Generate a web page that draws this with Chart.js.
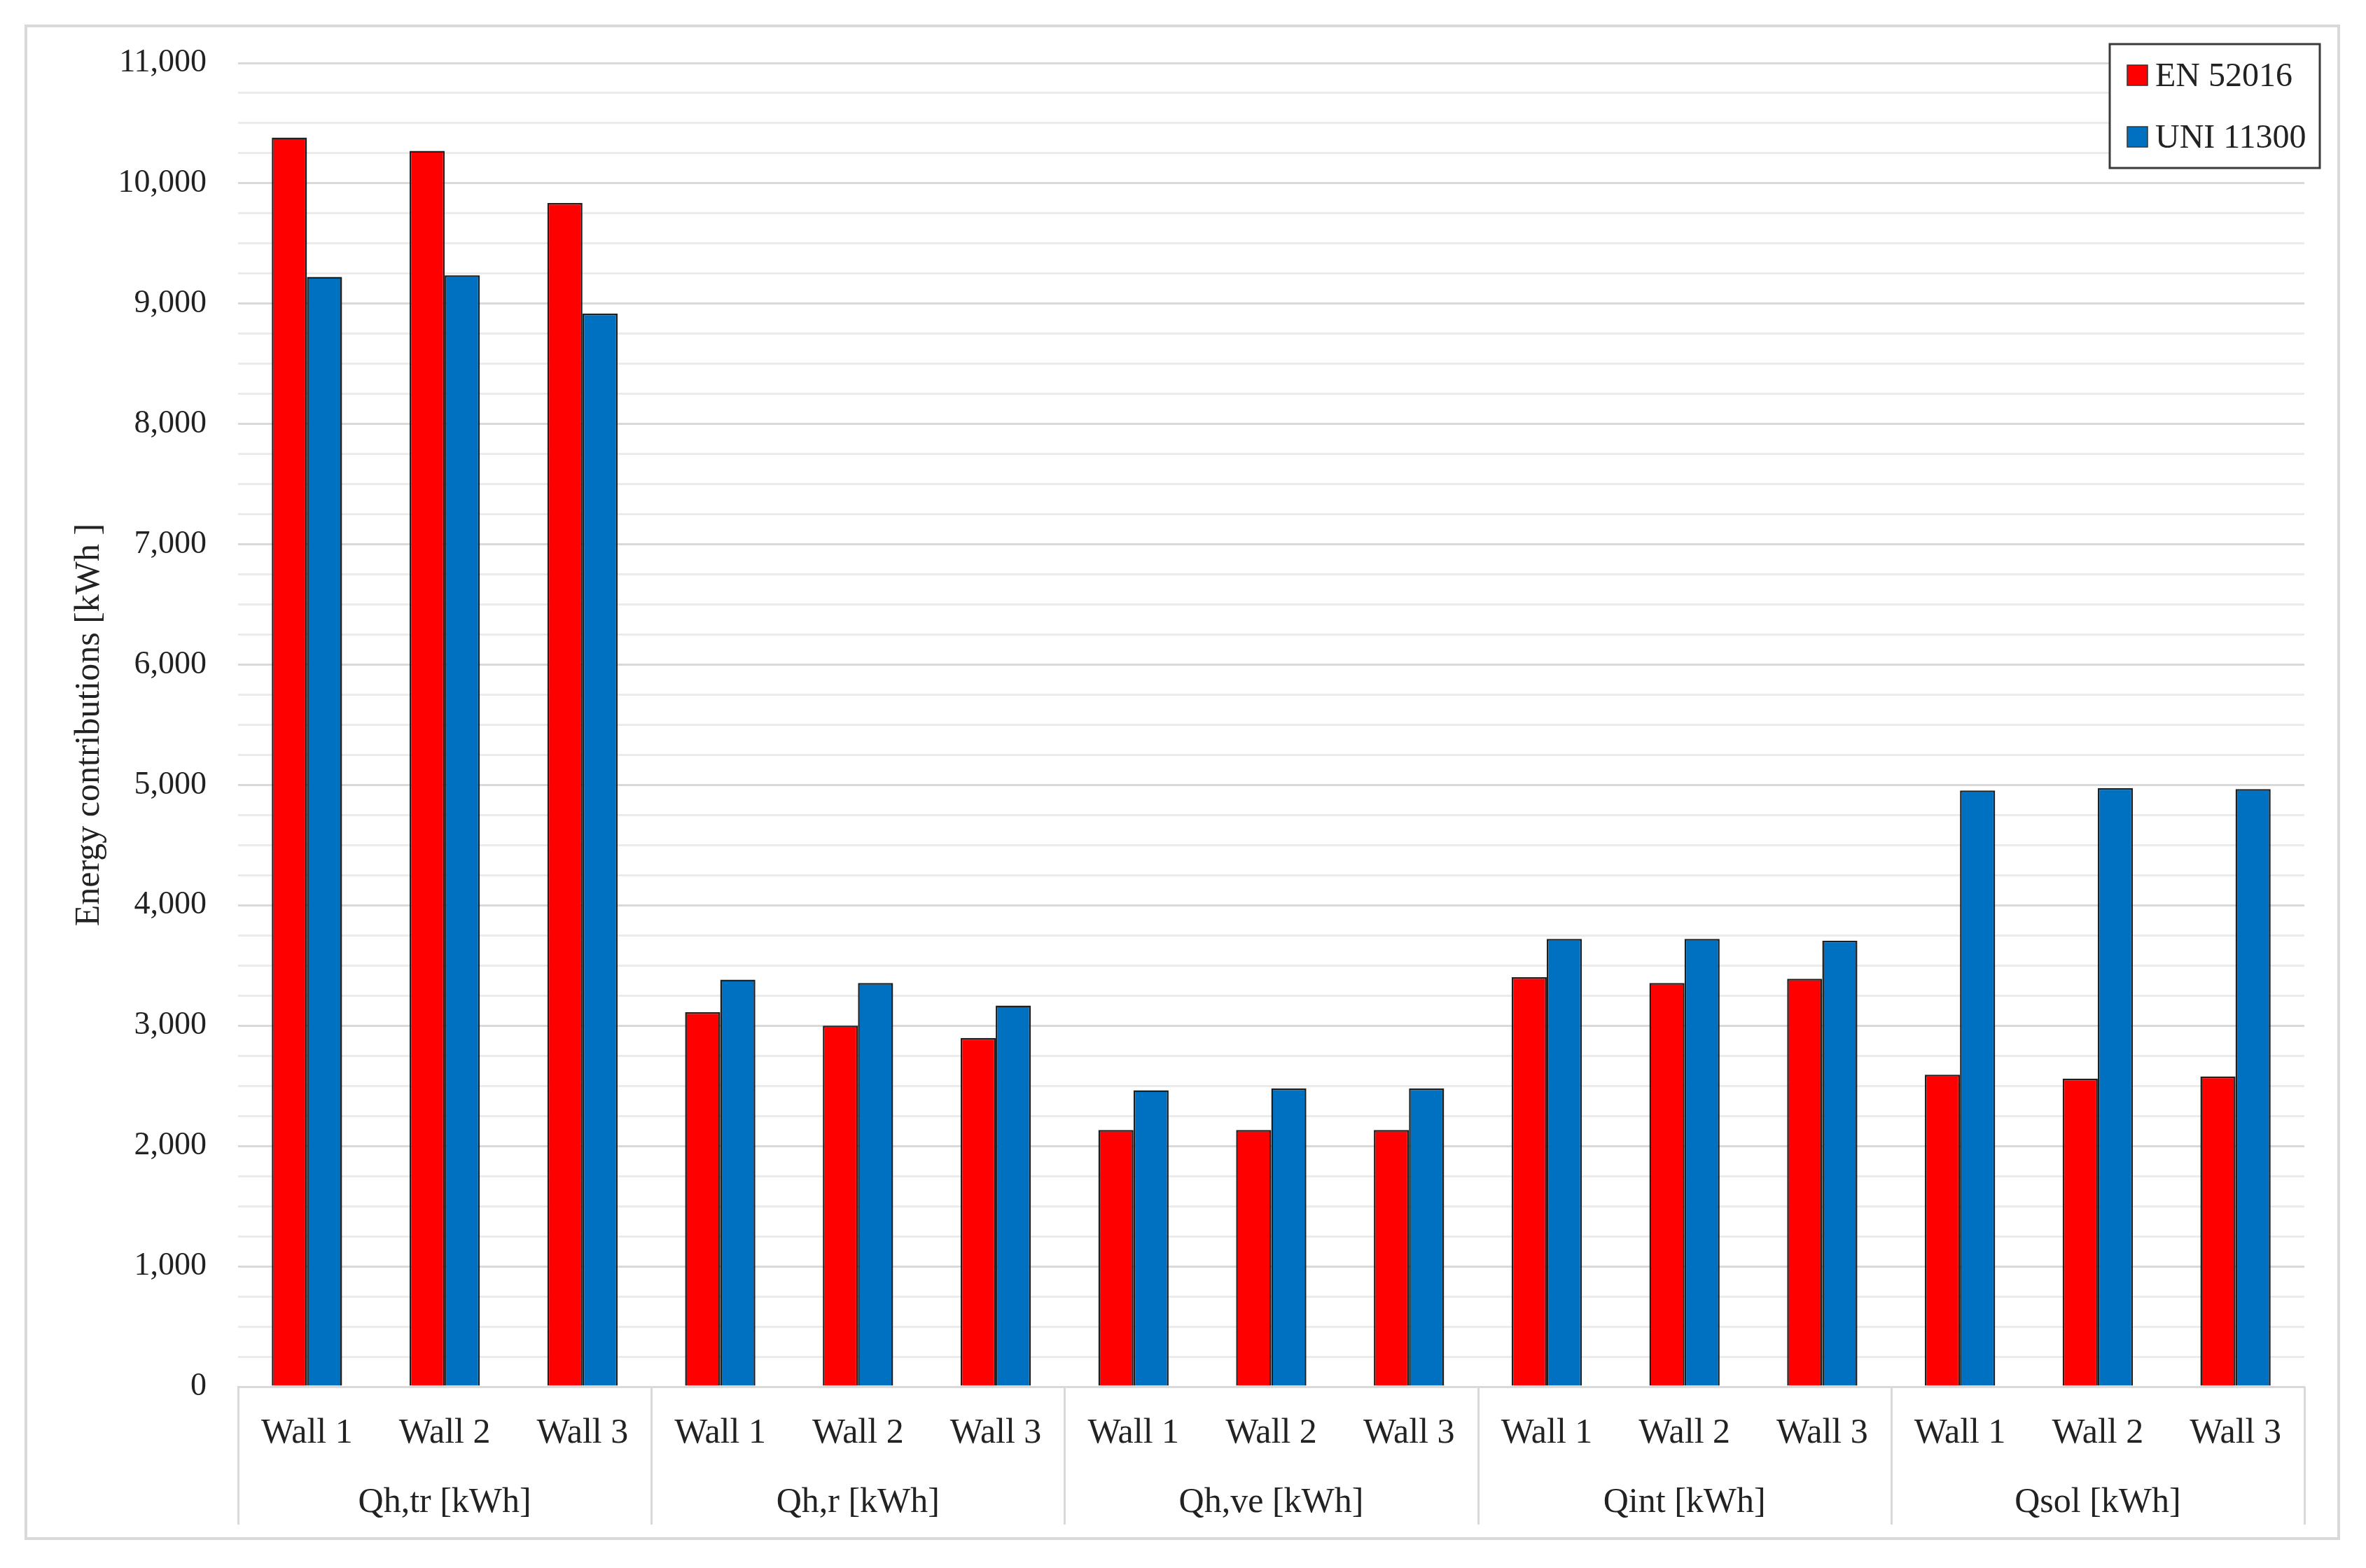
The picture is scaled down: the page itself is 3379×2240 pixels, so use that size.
<!DOCTYPE html>
<html>
<head>
<meta charset="utf-8">
<script src="https://cdn.jsdelivr.net/npm/chart.js@4.4.1/dist/chart.umd.min.js"></script>
<style>
  html, body { margin: 0; padding: 0; background: #ffffff; }
  canvas { display: block; }
</style>
</head>
<body>
<canvas id="c" width="3379" height="2240"></canvas>
<script>
// ---- Data ----
const wallLabels = ['Wall 1', 'Wall 2', 'Wall 3',
                    'Wall 1', 'Wall 2', 'Wall 3',
                    'Wall 1', 'Wall 2', 'Wall 3',
                    'Wall 1', 'Wall 2', 'Wall 3',
                    'Wall 1', 'Wall 2', 'Wall 3'];
const groupLabels = ['Qh,tr [kWh]', 'Qh,r [kWh]', 'Qh,ve [kWh]', 'Qint [kWh]', 'Qsol [kWh]'];
const seriesNames = ['EN 52016', 'UNI 11300'];
const en52016 = [10380, 10270, 9837,  3112, 3000, 2899,  2134, 2134, 2134,  3403, 3355, 3390,  2593, 2560, 2579];
const uni11300 = [9223, 9236, 8917,   3382, 3355, 3167,  2463, 2479, 2479,  3721, 3721, 3707,  4955, 4975, 4967];
const yAxisTitle = 'Energy contributions [kWh ]';
const yMin = 0, yMax = 11000, yStep = 250, yLabelStep = 1000;

const FONT = "'Liberation Serif', 'Times New Roman', serif";
const TEXT = '#222222';
const GRID_MAJOR = '#d9d9d9';
const GRID_MINOR = '#ebebeb';

const framePlugin = {
  id: 'frame',
  beforeDraw(chart) {
    const ctx = chart.ctx;
    ctx.save();
    ctx.fillStyle = '#ffffff';
    ctx.fillRect(0, 0, chart.width, chart.height);
    ctx.strokeStyle = '#d9d9d9';
    ctx.lineWidth = 4;
    ctx.strokeRect(37, 37, 3303, 2161);
    ctx.restore();
  }
};

// vertical separators between groups, spanning both label rows
const groupDividerPlugin = {
  id: 'groupDividers',
  afterDraw(chart) {
    const x = chart.scales.x, x2 = chart.scales.x2;
    const n = x2.getLabels().length;
    const ctx = chart.ctx;
    ctx.save();
    ctx.strokeStyle = GRID_MAJOR;
    ctx.lineWidth = 3;
    for (let g = 0; g <= n; g++) {
      const px = Math.round(x2.left + g * x2.width / n) + 0.5;
      ctx.beginPath();
      ctx.moveTo(px, x.top);
      ctx.lineTo(px, x2.bottom + 6);
      ctx.stroke();
    }
    ctx.restore();
  }
};

const boxLegendPlugin = {
  id: 'boxLegend',
  afterDraw(chart) {
    const ctx = chart.ctx;
    const ds = chart.data.datasets;
    const bx = 3013, by = 63, bw = 300, bh = 177;
    ctx.save();
    ctx.fillStyle = '#ffffff';
    ctx.fillRect(bx, by, bw, bh);
    ctx.strokeStyle = '#3a3a3a';
    ctx.lineWidth = 3;
    ctx.strokeRect(bx, by, bw, bh);
    ctx.font = '48px ' + FONT;
    ctx.textBaseline = 'middle';
    ctx.textAlign = 'left';
    ds.forEach((d, i) => {
      const cy = 108 + i * 88;
      ctx.fillStyle = d.backgroundColor;
      ctx.fillRect(3038, cy - 15, 29, 29);
      ctx.strokeStyle = '#333333';
      ctx.lineWidth = 1.5;
      ctx.strokeRect(3038, cy - 15, 29, 29);
      ctx.fillStyle = TEXT;
      ctx.fillText(d.label, 3078, cy + 2);
    });
    ctx.restore();
  }
};

new Chart(document.getElementById('c'), {
  type: 'bar',
  data: {
    labels: wallLabels,
    datasets: [
      { label: seriesNames[0], data: en52016, backgroundColor: '#ff0000',
        borderColor: '#1f1f1f', borderWidth: 2.5, categoryPercentage: 0.51, barPercentage: 1.0 },
      { label: seriesNames[1], data: uni11300, backgroundColor: '#0070c0',
        borderColor: '#1f1f1f', borderWidth: 2.5, categoryPercentage: 0.51, barPercentage: 1.0 }
    ]
  },
  options: {
    responsive: false,
    animation: false,
    devicePixelRatio: 1,
    layout: { padding: { left: 95, right: 88, top: 90, bottom: 68 } },
    plugins: { legend: { display: false }, tooltip: { enabled: false } },
    scales: {
      x: {
        type: 'category',
        offset: true,
        weight: 0,
        border: { display: true, color: GRID_MAJOR, width: 3 },
        grid: { display: false, drawTicks: false },
        ticks: {
          padding: 37,
          maxRotation: 0,
          autoSkip: false,
          color: TEXT,
          font: { family: FONT, size: 50 }
        },
        afterFit(scale) { scale.height = 92; }
      },
      x2: {
        type: 'category',
        labels: groupLabels,
        position: 'bottom',
        offset: true,
        weight: 1,
        border: { display: false },
        grid: { display: false, drawTicks: false },
        ticks: {
          padding: 44,
          maxRotation: 0,
          autoSkip: false,
          color: TEXT,
          font: { family: FONT, size: 50 }
        },
        afterFit(scale) { scale.height = 99; }
      },
      y: {
        min: yMin,
        max: yMax,
        afterFit(scale) { scale.width = 245; },
        border: { display: false },
        grid: {
          drawTicks: false,
          lineWidth: 3,
          color: (c) => (c.tick && c.tick.value % yLabelStep === 0 ? GRID_MAJOR : GRID_MINOR)
        },
        ticks: {
          stepSize: yStep,
          autoSkip: false,
          padding: 45,
          color: TEXT,
          font: { family: FONT, size: 46 },
          callback: (v) => (v % yLabelStep === 0 ? Number(v).toLocaleString('en-US') : '')
        },
        title: {
          display: true,
          text: yAxisTitle,
          color: TEXT,
          font: { family: FONT, size: 50 },
          padding: { top: 3, bottom: 0 }
        }
      }
    }
  },
  plugins: [framePlugin, groupDividerPlugin, boxLegendPlugin]
});
</script>
</body>
</html>
